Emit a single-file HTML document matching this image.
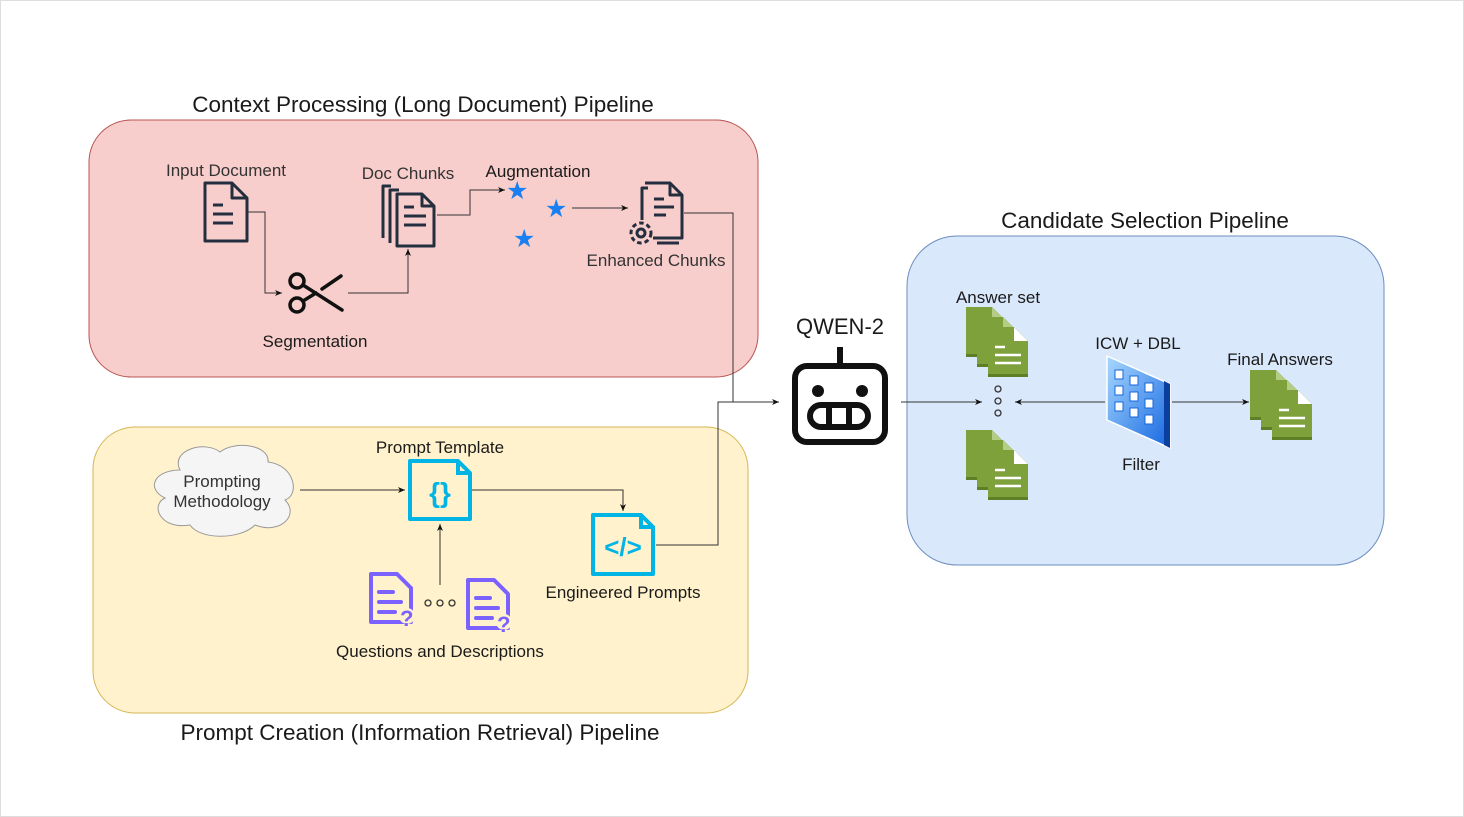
<!DOCTYPE html>
<html><head><meta charset="utf-8"><style>
html,body{margin:0;padding:0;background:#fff}
svg{display:block}
text{font-family:"Liberation Sans",sans-serif;fill:#1a1a1a}
</style></head><body>
<svg width="1464" height="817" viewBox="0 0 1464 817" xmlns="http://www.w3.org/2000/svg">
<defs>
<marker id="ar" markerWidth="8" markerHeight="8" refX="7" refY="4" orient="auto" markerUnits="userSpaceOnUse">
<path d="M0,1 L7,4 L0,7 L2,4 Z" fill="#111"/></marker>
<g id="gpage">
<path d="M0,0 H26 L40,14 V50 H0 Z" fill="#5f7f27"/>
<path d="M0,0 H26 L40,14 V47 H0 Z" fill="#7ea13c"/>
<path d="M26,0 L40,14 H26 Z" fill="#b5cc85"/>
</g>
<g id="gstack">
<use href="#gpage" x="0" y="0"/>
<use href="#gpage" x="11" y="10"/>
<path d="M22,20 H48 L62,34 V70 H22 Z" fill="#5f7f27"/>
<path d="M22,20 H48 L62,34 V67 H22 Z" fill="#7ea13c"/>
<path d="M48,20 L62,34 H48 Z" fill="#fff"/>
<path d="M29,40 h10 M29,48 h26 M29,56 h26" stroke="#fff" stroke-width="2.5"/>
</g>
<g id="qdoc">
<path d="M4,2 H30 L44,16 V50 H4 Z" fill="none" stroke="#7b61ff" stroke-width="4" stroke-linejoin="round"/>
<path d="M12,20 h14 M12,30 h22 M12,40 h16" stroke="#7b61ff" stroke-width="4" stroke-linecap="round"/>
<circle cx="40" cy="44" r="8" fill="#fff2cc"/>
<text x="33" y="54" font-size="22" font-weight="bold" style="fill:#7b61ff">?</text>
</g>
</defs>
<rect x="0.5" y="0.5" width="1463" height="816" fill="#fff" stroke="#ddd"/>

<rect x="89" y="120" width="669" height="257" rx="42" fill="#f8cecc" stroke="#b85450"/>
<rect x="93" y="427" width="655" height="286" rx="42" fill="#fff2cc" stroke="#d6b656"/>
<rect x="907" y="236" width="477" height="329" rx="50" fill="#dae8fc" stroke="#6c8ebf"/>

<text x="423" y="112" font-size="22.5" text-anchor="middle">Context Processing (Long Document) Pipeline</text>
<text x="420" y="740" font-size="22.5" text-anchor="middle">Prompt Creation (Information Retrieval) Pipeline</text>
<text x="1145" y="228" font-size="22.5" text-anchor="middle">Candidate Selection Pipeline</text>
<text x="840" y="334" font-size="22" text-anchor="middle">QWEN-2</text>

<g fill="none" stroke="#333" stroke-width="1">
<path d="M248,212 H265 V293 H282" marker-end="url(#ar)"/>
<path d="M348,293 H408 V249" marker-end="url(#ar)"/>
<path d="M437,215 H470 V190 H505" marker-end="url(#ar)"/>
<path d="M572,208 H628" marker-end="url(#ar)"/>
<path d="M684,213 H733 V402 H779" marker-end="url(#ar)"/>
<path d="M656,545 H718 V402 H733"/>
<path d="M300,490 H405" marker-end="url(#ar)"/>
<path d="M472,490 H623 V511" marker-end="url(#ar)"/>
<path d="M440,585 V524" marker-end="url(#ar)"/>
<path d="M901,402 H982" marker-end="url(#ar)"/>
<path d="M1105,402 H1015" marker-end="url(#ar)"/>
<path d="M1172,402 H1249" marker-end="url(#ar)"/>
</g>

<text x="226" y="176" font-size="17" text-anchor="middle" style="fill:#333">Input Document</text>
<g fill="none" stroke="#232f3e" stroke-width="3" stroke-linejoin="round">
<path d="M205,183 H232 L247,198 V241 H205 Z"/><path d="M232,183 V198 H247"/>
<path d="M213,205 h10 M213,214 h20 M213,223 h20"/>
</g>
<g fill="none" stroke="#111" stroke-width="3.5" stroke-linecap="round">
<circle cx="297" cy="281" r="7"/><circle cx="297" cy="305" r="7"/>
<path d="M303,285 L342,310 M303,301 L316,293 M322,289 L341,276"/>
</g>
<text x="315" y="347" font-size="17" text-anchor="middle">Segmentation</text>
<text x="408" y="179" font-size="17" text-anchor="middle" style="fill:#333">Doc Chunks</text>
<g fill="none" stroke="#232f3e" stroke-width="3" stroke-linejoin="round">
<path d="M391,186 H383 V238"/><path d="M399,190 H390 V243"/>
<path d="M397,194 H422 L434,206 V246 H397 Z"/><path d="M422,194 V206 H434"/>
<path d="M404,207 h10 M404,216 h22 M404,225 h22"/>
</g>
<text x="538" y="177" font-size="17" text-anchor="middle">Augmentation</text>
<text x="506" y="199" font-size="25" style="fill:#1a7ff0">★</text>
<text x="545" y="217" font-size="25" style="fill:#1a7ff0">★</text>
<text x="513" y="247" font-size="25" style="fill:#1a7ff0">★</text>
<g fill="none" stroke="#232f3e" stroke-width="3" stroke-linejoin="round">
<path d="M648,188 H642 V220"/>
<path d="M645,183 H670 L682,195 V238 H653"/><path d="M670,183 V195 H682"/>
<path d="M654,199 h10 M654,207 h20 M654,215 h12"/>
<circle cx="641" cy="233" r="4"/><circle cx="641" cy="233" r="10" stroke-dasharray="4.5 3"/>
<path d="M657,243 H679"/>
</g>
<text x="656" y="266" font-size="17" text-anchor="middle" style="fill:#333">Enhanced Chunks</text>

<path d="M180,470 C170,450 205,440 220,452 C235,440 270,445 268,462 C295,465 300,495 285,500 C300,515 280,535 255,525 C240,540 200,540 190,525 C160,530 150,505 165,498 C145,488 155,470 180,470 Z" fill="#f5f5f5" stroke="#999"/>
<text x="222" y="487" font-size="17" text-anchor="middle" style="fill:#333">Prompting</text>
<text x="222" y="507" font-size="17" text-anchor="middle" style="fill:#333">Methodology</text>
<text x="440" y="453" font-size="17" text-anchor="middle">Prompt Template</text>
<path d="M410,461 H458 L470,473 V519 H410 Z" fill="none" stroke="#00b4e6" stroke-width="4" stroke-linejoin="round"/>
<path d="M458,461 V473 H470" fill="none" stroke="#00b4e6" stroke-width="4"/>
<text x="440" y="502" font-size="28" font-weight="bold" text-anchor="middle" style="fill:#00b4e6">{}</text>
<path d="M593,515 H641 L653,527 V574 H593 Z" fill="none" stroke="#00b4e6" stroke-width="4" stroke-linejoin="round"/>
<path d="M641,515 V527 H653" fill="none" stroke="#00b4e6" stroke-width="4"/>
<text x="623" y="556" font-size="26" font-weight="bold" text-anchor="middle" style="fill:#00b4e6">&lt;/&gt;</text>
<text x="623" y="598" font-size="17" text-anchor="middle">Engineered Prompts</text>
<use href="#qdoc" x="367" y="572"/>
<use href="#qdoc" x="464" y="578"/>
<g fill="none" stroke="#333" stroke-width="1.3"><circle cx="428" cy="603" r="3"/><circle cx="440" cy="603" r="3"/><circle cx="452" cy="603" r="3"/></g>
<text x="440" y="657" font-size="17" text-anchor="middle">Questions and Descriptions</text>

<g fill="none" stroke="#111" stroke-width="6">
<rect x="795" y="366" width="90" height="76" rx="12"/>
<rect x="810" y="405" width="58" height="22" rx="11"/>
<path d="M840,347 V366 M829,405 V427 M849,405 V427"/>
</g>
<circle cx="818" cy="391" r="6" fill="#111"/><circle cx="862" cy="391" r="6" fill="#111"/>

<text x="998" y="303" font-size="17" text-anchor="middle">Answer set</text>
<use href="#gstack" x="966" y="307"/>
<use href="#gstack" x="966" y="430"/>
<g fill="none" stroke="#333" stroke-width="1.3"><circle cx="998" cy="389" r="3"/><circle cx="998" cy="401" r="3"/><circle cx="998" cy="413" r="3"/></g>
<text x="1138" y="349" font-size="17" text-anchor="middle">ICW + DBL</text>
<defs><linearGradient id="fg" x1="0" y1="0" x2="1" y2="1"><stop offset="0" stop-color="#a8d8ff"/><stop offset="1" stop-color="#1466e0"/></linearGradient></defs>
<path d="M1107,356 L1170,384 V448 L1107,420 Z" fill="url(#fg)" stroke="#fff" stroke-width="1.5"/>
<path d="M1164,381 L1170,384 V448 L1164,445 Z" fill="#0a3fa0"/>
<g fill="#fff" stroke="#1466e0" stroke-width="1">
<rect x="1115" y="370" width="8" height="9"/><rect x="1130" y="376" width="8" height="9"/><rect x="1145" y="383" width="8" height="9"/>
<rect x="1115" y="386" width="8" height="9"/><rect x="1130" y="392" width="8" height="9"/><rect x="1145" y="399" width="8" height="9"/>
<rect x="1115" y="402" width="8" height="9"/><rect x="1130" y="408" width="8" height="9"/><rect x="1145" y="415" width="8" height="9"/>
</g>
<text x="1141" y="470" font-size="17" text-anchor="middle">Filter</text>
<text x="1280" y="365" font-size="17" text-anchor="middle">Final Answers</text>
<use href="#gstack" x="1250" y="370"/>
</svg>
</body></html>
